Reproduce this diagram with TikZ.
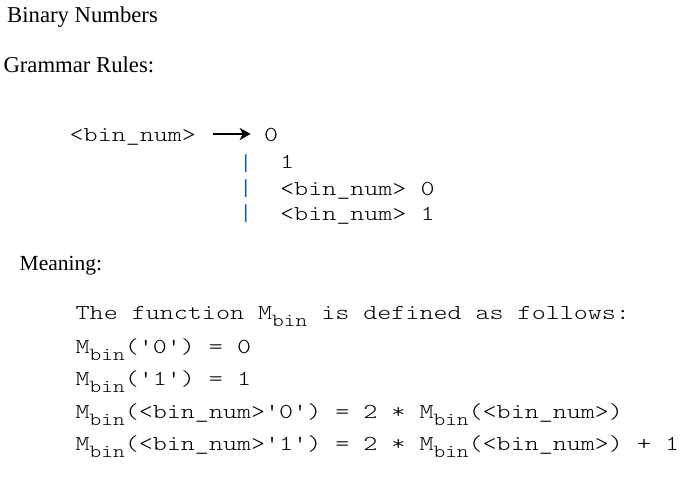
\documentclass[tikz,border=0pt]{standalone}
\usepackage{fontspec}
\usepackage{tikz}
\usepackage{xcolor}
\usetikzlibrary{arrows.meta}
\setmainfont{Liberation Serif}
\setmonofont[FakeStretch=1.255]{lmmonolt10-regular.otf}
\newfontfamily\subfont[FakeStretch=1.204]{lmmonolt10-regular.otf}
\newfontfamily\barfont{Liberation Mono}
\definecolor{barblue}{RGB}{20,90,170}
\newcommand{\Mbin}{M\raisebox{-7pt}{\fontsize{18.5}{20}\subfont bin}}

\begin{document}
\begin{tikzpicture}[x=1pt,y=-1pt,
    heading/.style={anchor=base west,inner sep=0pt,font=\fontsize{22.7}{26}\selectfont},
    code/.style={anchor=base west,inner sep=0pt,font=\fontsize{21.3}{28}\ttfamily},
    bar/.style={inner sep=0pt,text=barblue,font=\fontsize{19}{22}\barfont},
    derives/.style={line width=2pt,-{Stealth[length=11pt,width=12pt,inset=3pt]}}]
                \useasboundingbox (0,0) rectangle (690,483);

                % Headings
                \node[heading] (title) at (7,22.3) {Binary Numbers};
                \node[heading] (rules) at (3.3,72.3) {Grammar Rules:};
                \node[heading,font=\fontsize{21.5}{24}\selectfont] (meaning) at (19.5,270.7) {Meaning:};

                % Grammar rules
                \node[code] (lhs) at (69.5,141.7) {<bin\_num>};
                \node[code] (alt0) at (264,141.7) {0};
                \node[code] (alt1) at (280,168.3) {1};
                \node[code] (alt2) at (280,195) {<bin\_num> 0};
                \node[code] (alt3) at (280,220) {<bin\_num> 1};
                \draw[derives,shorten <=16.8pt,shorten >=13.3pt]
                    ([yshift=7.7pt]lhs.base east) -- ([yshift=7.7pt]alt0.base west);

                % Alternatives
                \foreach \y [count=\i] in {163.3,188.3,213.3}
                    \node[bar] (bar\i) at (245.7,\y) {|};

                % Meaning
                \node[code] (mdef) at (75.5,319.3) {The function \Mbin{} is defined as follows:};
                \node[code] (m0) at (75.5,353.3) {\Mbin('0') = 0};
                \node[code] (m1) at (75.5,385.7) {\Mbin('1') = 1};
                \node[code] (m2) at (75.5,418.3) {\Mbin(<bin\_num>'0') = 2 * \Mbin(<bin\_num>)};
                \node[code] (m3) at (75.5,450) {\Mbin(<bin\_num>'1') = 2 * \Mbin(<bin\_num>) + 1};
            \end{tikzpicture}
\end{document}
